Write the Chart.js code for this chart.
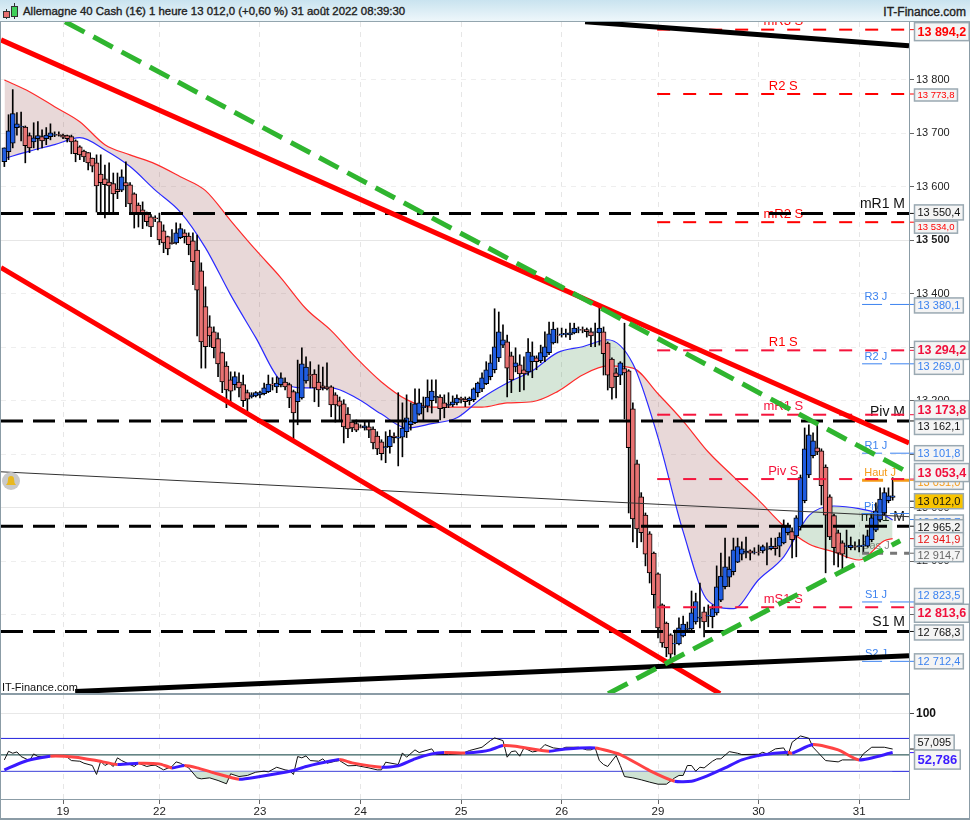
<!DOCTYPE html>
<html lang="fr">
<head>
<meta charset="utf-8">
<title>Allemagne 40 Cash</title>
<script src="https://cdn.jsdelivr.net/npm/chart.js@4/dist/chart.umd.min.js"></script>
<style>
    html, body { margin: 0; padding: 0; background: #fff; }
    body { width: 970px; height: 820px; position: relative; overflow: hidden; font-family: "Liberation Sans", Arial, sans-serif; }
    #titlebar { position: absolute; left: 0; top: 0; width: 970px; height: 22px; background: linear-gradient(#c9e3ef, #eef7fb); border-bottom: 1px solid #93a5ae; box-sizing: border-box; z-index: 5; }
    #titlebar span { position: absolute; top: 5px; font-size: 12px; color: #222; white-space: nowrap; -webkit-text-stroke: 0.35px #222; }
    #titlebar #ttl { left: 23px; font-size: 11.4px; }
    #site { right: 4px; }
    .ic { position: absolute; box-sizing: border-box; border: 1px solid #333; }
    canvas { position: absolute; left: 0; }
    #mainChart { top: 22px; }
    #rsiChart { top: 694px; }
    .line { position: absolute; background: #8b9ca6; z-index: 4; }
</style>
</head>
<body>
<div id="titlebar">
    <div class="ic" style="left:6px;top:9px;width:1px;height:10px;border-width:0 0 0 1px"></div>
    <div class="ic" style="left:14px;top:3px;width:1px;height:16px;border-width:0 0 0 1px"></div>
    <div class="ic" style="left:3px;top:11px;width:7px;height:7px;background:#e87070"></div>
    <div class="ic" style="left:11px;top:6px;width:7px;height:11px;background:#3fd05a"></div>
    <span id="ttl">Allemagne 40 Cash (1€) 1 heure 13 012,0 (+0,60 %) 31 août 2022 08:39:30</span>
    <span id="site">IT-Finance.com</span>
</div>
<canvas id="mainChart" width="970" height="672"></canvas>
<canvas id="rsiChart" width="970" height="126"></canvas>
<div class="line" style="left:0;top:22px;width:1px;height:798px"></div>
<div class="line" style="left:969px;top:0;width:1px;height:820px"></div>
<div class="line" style="left:0;top:693px;width:909px;height:2px"></div>
<div class="line" style="left:0;top:799px;width:909px;height:1px"></div>
<div class="line" style="left:0;top:818px;width:970px;height:2px"></div>
<div class="line" style="left:909px;top:22px;width:1px;height:778px"></div>
<script>
// Bougies 1 heure
const opens = [
    13647,13666,13682,13711,13712,13712,13696,13684,13690,13694,
    13690,13694,13697,13698,13697,13696,13694,13686,13675,13667,
    13664,13654,13645,13624,13615,13609,13606,13596,13594,13608,
    13604,13587,13566,13557,13551,13544,13542,13535,13518,13507,
    13496,13495,13505,13514,13508,13499,13482,13443,13376,13338,
    13329,13316,13290,13265,13239,13230,13235,13230,13215,13207,
    13209,13211,13213,13217,13231,13226,13230,13235,13230,13217,
    13198,13205,13237,13249,13250,13235,13228,13226,13226,13211,
    13200,13194,13175,13160,13157,13151,13149,13151,13147,13134,
    13123,13112,13114,13134,13130,13132,13142,13155,13159,13175,
    13187,13190,13200,13206,13207,13196,13191,13192,13196,13205,
    13203,13200,13202,13215,13222,13232,13245,13258,13280,13304,
    13310,13284,13263,13267,13258,13254,13273,13280,13275,13282,
    13290,13308,13323,13323,13324,13323,13327,13332,13333,13333,
    13329,13328,13327,13329,13308,13278,13252,13248,13260,13256,
    13185,13082,13020,12986,12951,12915,12876,12818,12784,12762,
    12745,12745,12760,12772,12773,12786,12793,12805,12797,12796,
    12803,12827,12852,12870,12880,12898,12913,12916,12919,12916,
    12917,12919,12922,12923,12927,12928,12934,12953,12955,12947,
    12964,13013,13061,13097,13112,13106,13076,13020,12985,12953,
    12934,12927,12925,12927,12927,12928,12928,12940,12958,12977,
    12990,13013,13019];
const highs = [
    13673,13735,13782,13739,13740,13714,13701,13720,13722,13707,
    13711,13718,13703,13703,13699,13697,13697,13688,13677,13669,
    13664,13654,13660,13660,13641,13645,13626,13626,13632,13647,
    13608,13589,13570,13572,13553,13548,13546,13551,13529,13508,
    13520,13533,13531,13520,13514,13514,13510,13458,13413,13359,
    13338,13327,13291,13273,13254,13254,13252,13248,13220,13215,
    13217,13218,13233,13248,13243,13245,13252,13243,13233,13220,
    13276,13299,13282,13273,13258,13267,13263,13271,13228,13215,
    13207,13202,13187,13164,13164,13155,13162,13160,13151,13142,
    13127,13142,13145,13140,13215,13196,13211,13196,13222,13222,
    13207,13239,13239,13239,13211,13211,13215,13209,13211,13207,
    13207,13207,13224,13235,13252,13273,13286,13372,13366,13342,
    13323,13291,13299,13286,13282,13316,13310,13284,13304,13329,
    13347,13347,13336,13336,13334,13345,13345,13338,13338,13336,
    13336,13345,13376,13338,13310,13280,13261,13273,13345,13258,
    13196,13089,13028,12990,12955,12917,12878,12820,12786,12764,
    12771,12794,12797,12786,12844,12840,12859,12814,12818,12818,
    12891,12915,12943,12908,12943,12943,12936,12945,12921,12925,
    12930,12930,12934,12943,12943,12953,12977,12971,12962,12985,
    13061,13149,13155,13140,13159,13110,13080,13024,12988,12958,
    12938,12958,12945,12936,12940,12949,12958,12990,13009,13037,
    13037,13037,13056];
const lows = [
    13638,13651,13673,13697,13686,13645,13664,13673,13669,13673,
    13679,13688,13694,13695,13690,13684,13662,13647,13651,13647,
    13632,13628,13553,13551,13542,13553,13551,13578,13591,13563,
    13551,13523,13525,13522,13527,13507,13535,13492,13477,13473,
    13493,13493,13503,13495,13473,13417,13321,13261,13261,13301,
    13280,13245,13215,13187,13198,13220,13207,13189,13179,13205,
    13207,13205,13211,13215,13220,13215,13226,13220,13187,13129,
    13155,13203,13233,13224,13198,13189,13220,13220,13170,13160,
    13164,13121,13131,13142,13142,13149,13145,13131,13110,13099,
    13089,13084,13102,13121,13078,13095,13131,13145,13157,13173,
    13164,13179,13177,13196,13164,13168,13187,13189,13192,13196,
    13189,13192,13198,13207,13217,13230,13239,13252,13273,13299,
    13207,13215,13254,13217,13220,13248,13243,13258,13271,13273,
    13286,13306,13308,13319,13319,13314,13325,13327,13327,13319,
    13301,13301,13304,13248,13220,13203,13205,13230,13166,12990,
    12936,12925,12936,12891,12859,12812,12756,12739,12721,12715,
    12724,12743,12758,12766,12768,12782,12775,12758,12777,12775,
    12799,12824,12848,12852,12874,12897,12902,12906,12902,12913,
    12911,12915,12893,12921,12911,12908,12932,12949,12906,12908,
    12958,13009,13056,13093,13099,13005,12878,12940,12893,12889,
    12883,12906,12921,12921,12917,12915,12926,12936,12955,12973,
    12986,13009,13014];
const closes = [
    13673,13705,13737,13718,13714,13677,13673,13692,13696,13686,
    13697,13701,13698,13697,13693,13690,13684,13662,13660,13656,
    13645,13639,13602,13608,13604,13602,13587,13591,13619,13602,
    13568,13551,13550,13548,13535,13525,13540,13501,13495,13484,
    13494,13514,13522,13507,13492,13460,13407,13310,13301,13321,
    13299,13269,13235,13220,13218,13245,13224,13200,13203,13211,
    13215,13215,13224,13231,13229,13233,13243,13226,13205,13177,
    13215,13269,13263,13247,13224,13220,13224,13222,13192,13192,
    13190,13151,13147,13149,13145,13150,13153,13145,13121,13110,
    13101,13114,13134,13131,13132,13149,13168,13162,13194,13196,
    13190,13207,13218,13208,13185,13187,13193,13198,13205,13202,
    13198,13205,13222,13233,13243,13258,13271,13301,13329,13314,
    13261,13239,13271,13250,13250,13291,13284,13273,13290,13301,
    13325,13334,13322,13325,13326,13327,13336,13333,13332,13329,
    13321,13329,13336,13288,13248,13224,13245,13271,13252,13112,
    12979,12960,12953,12913,12878,12837,12775,12747,12738,12726,
    12746,12775,12782,12774,12803,12824,12795,12786,12799,12811,
    12852,12872,12889,12885,12921,12927,12923,12918,12915,12917,
    12916,12927,12923,12928,12923,12945,12964,12966,12940,12981,
    13056,13110,13136,13125,13104,13041,12986,12945,12925,12915,
    12913,12929,12930,12926,12929,12930,12947,12981,12994,13016,
    13028,13022,13022];

// Moyennes mobiles, relevees toutes les 6 bougies
const maIdx = [0,6,12,18,24,30,36,42,48,54,60,66,72,78,84,90,96,102,108,114,120,126,132,138,144,150,156,162,168,174,180,186,192,198,204,210,212];
const maSlow = [13800,13778,13750,13722,13679,13660,13643,13619,13593,13537,13482,13430,13372,13331,13280,13235,13202,13188,13188,13188,13196,13198,13217,13248,13265,13261,13213,13162,13104,13058,13014,12966,12932,12917,12902,12938,12942];
const maFast = [13653,13667,13679,13692,13669,13638,13594,13553,13486,13398,13318,13237,13224,13224,13205,13175,13149,13157,13168,13205,13233,13256,13290,13301,13314,13269,13131,12955,12825,12811,12865,12908,12985,13003,12998,12986,12977];

// Niveaux horizontaux
const levelsM = [13550.4, 13162.1, 12965.2, 12768.3];
const levelsMNames = ['mR1 M', 'Piv M', 'mS1 M', 'S1 M'];
const levelsS = [13894.2, 13773.8, 13534.0, 13294.2, 13173.8, 13053.4, 12813.6];
const levelsSNames = ['mR3 S', 'R2 S', 'mR2 S', 'R1 S', 'mR1 S', 'Piv S', 'mS1 S'];
const levelsJ = [13380.1, 13269.0, 13101.8, 12989.0, 12823.5, 12712.4];
const levelsJNames = ['R3 J', 'R2 J', 'R1 J', 'Piv J', 'S1 J', 'S2 J'];
const hautJ = 13051.0;
const basJ = 12914.7;

// Droites de tendance : [indice, prix] aux extremites
const trendRedA = [[-0.8, 13875], [215.9, 13121]];
const trendRedB = [[-0.8, 13449], [170.8, 12652]];
const trendGreenA = [[14.5, 13909], [215.9, 13065]];
const trendGreenB = [[144.1, 12652], [213.8, 12938]];
const trendBlackA = [[138.6, 13909], [215.9, 13864]];
const trendBlackB = [[16.9, 12656], [215.9, 12723]];
const trendThin = [[-0.8, 13067], [215.9, 12983]];

// Axe du temps
const dayTicks = [14, 37, 61, 85, 109, 133, 156, 180, 204];
const dayLabels = ['19', '22', '23', '24', '25', '26', '29', '30', '31'];

// Etiquettes de prix a droite
const tagValues = [13894.2, 13773.8, 13534.0, 13550.4, 13380.1, 13269.0, 13294.2, 13162.1, 13173.8, 13101.8, 13051.0, 13053.4, 12977.7, 13012.0, 12965.2, 12941.9, 12914.7, 12823.5, 12813.6, 12768.3, 12712.4];
const tagStyles = [
    ['boldRed', 2], ['smallRed', 1], ['smallRed', 5], ['black', -1], ['blue', 1], ['blue', 3], ['boldPink', 0], ['black', 6], ['boldPink', -5], ['blue', 0],
    ['orange', 2], ['boldPink', -6.5], ['blue', 3], ['gold', 0], ['black', 1], ['red', 1], ['gray', 2], ['blue', -6], ['boldPink', 6], ['black', 1], ['blue', 0]
];

// RSI
const rsiIdx = [0,1,2,3,4,6,7,8,9,11,14,15,16,18,19,21,22,23,24,25,26,27,28,30,31,32,34,35,36,38,40,41,42,44,46,47,49,51,53,54,56,58,60,62,63,65,67,68,69,70,71,72,73,75,76,77,79,80,82,84,87,89,90,91,94,95,96,98,99,102,103,106,109,111,114,116,117,119,120,121,122,123,124,126,127,128,129,131,133,134,137,139,140,141,142,143,144,146,147,148,150,152,154,156,158,160,161,162,163,164,165,166,167,169,170,171,173,175,176,180,181,182,184,186,187,188,190,192,193,196,199,200,203,204,205,207,210,212];
const rsiLine = [43.9,54.4,52,53.6,48,43.1,51.2,48,48,48.4,49.2,47.2,43.1,42.3,39.9,37.1,26.2,42.3,37.1,39.9,35.9,46.4,43.1,38.3,35.9,39.9,35.9,37.1,37.5,31.8,35.9,41.5,39.9,34.2,22.1,20.9,22.1,18.9,14.9,27,23.7,25,29,30.2,29.4,35,31.8,31,26.2,48,46.4,48.8,43.1,42.3,45.2,39.9,42.3,43.1,36.7,37.1,34.2,31.8,31.8,41.1,38.3,52.4,47.2,56.1,52.8,57.3,50.4,50.4,51.2,55.3,59.3,67.4,70.6,67.4,47.2,54,54.8,48.4,58.5,53.6,54.4,57.3,62.5,58.5,57.3,59.3,59.3,56.1,56.1,58.5,43.1,38.3,35.9,49.2,37.1,23.7,22.1,19.7,16.9,14.4,14.4,22.1,25,25,37.1,37.1,30.2,35,34.2,42.3,45.2,45.2,54,52,50.4,50.8,53.2,51.2,57.3,58.5,49.2,65.4,73,70.2,59.3,43.1,41.5,43.9,43.9,43.9,51.2,59.3,59.3,57.1];
const sigIdx = [0,5,11,17,22,27,32,37,40,43,46,50,56,60,69,72,80,83,90,94,98,102,105,110,114,116,119,122,130,134,141,147,154,160,164,167,172,176,181,187,188,193,199,204,212];
const sigLine = [31.8,42.3,48.4,47.2,43.1,38.3,39.9,39.1,34.2,37.1,34.2,28.2,20.5,22.9,31,35.9,44.3,40.3,35,36.7,45.2,51.2,52.8,52.4,54,56.1,61.3,60.5,54.4,57.3,58.5,50.4,31,18,18,22.9,34.2,43.9,50,53.2,52,62.5,56.1,43.9,52.8];
const rsiLevels = [70, 50, 30];
const rsiTags = [57.095, 52.786];

const xMin = -0.8;
const xMax = 215.9;
const uiFont = '"Liberation Sans", Arial, sans-serif';

// 13012.0 -> "13 012,0"
function fmtPrice(v, dec) {
    const s = v.toFixed(dec).replace('.', ',');
    const p = s.split(',');
    const head = p[0].length > 3 ? p[0].slice(0, -3) + ' ' + p[0].slice(-3) : p[0];
    return p.length > 1 ? head + ',' + p[1] : head;
}

function toPoints(pairs) {
    return pairs.map(p => ({ x: p[0], y: p[1] }));
}

function trendDataset(pairs, color, width, dash, order) {
    return { type: 'line', data: toPoints(pairs), borderColor: color, borderWidth: width, borderDash: dash || [], pointRadius: 0, tension: 0, order: order, fill: false };
}

function levelDataset(value, start, color, width, dash, order) {
    return { type: 'line', data: [{ x: start, y: value }, { x: xMax, y: value }], borderColor: color, borderWidth: width, borderDash: dash, pointRadius: 0, tension: 0, order: order, fill: false };
}

function dayGrid() {
    return {
        drawTicks: false,
        color: '#e6e6e6',
        lineWidth: 1,
        offset: false
    };
}

const candleIdx = opens.map((_, i) => i);
const mainDatasets = [
    // 0 : moyenne lente, remplie jusqu'a la rapide
    { type: 'line', data: maIdx.map((x, i) => ({ x: x, y: maSlow[i] })), borderColor: '#ff2a2a', borderWidth: 1.2, pointRadius: 0, cubicInterpolationMode: 'monotone', order: 20,
      fill: { target: 1, above: 'rgba(140,60,60,0.2)', below: 'rgba(50,130,60,0.2)' } },
    // 1 : moyenne rapide
    { type: 'line', data: maIdx.map((x, i) => ({ x: x, y: maFast[i] })), borderColor: '#2a2aff', borderWidth: 1.2, pointRadius: 0, cubicInterpolationMode: 'monotone', order: 19, fill: false },
    // meches puis corps
    { type: 'bar', data: candleIdx.map(i => ({ x: i, y: [lows[i], highs[i]] })), backgroundColor: '#000', barThickness: 1, grouped: false, order: 15 },
    { type: 'bar', data: candleIdx.map(i => ({ x: i, y: [opens[i], closes[i]] })),
      backgroundColor: candleIdx.map(i => closes[i] >= opens[i] ? '#1f5ce0' : '#e87272'),
      borderColor: '#000', borderWidth: 1, borderSkipped: false, barThickness: 5, grouped: false, order: 14 },
    trendDataset(trendThin, '#333', 1, [], 12),
];

levelsJ.forEach(v => mainDatasets.push(levelDataset(v, 204.7, '#3b82f0', 1, [20, 8, 100, 0], 11)));
mainDatasets.push(levelDataset(hautJ, 204.7, '#f59a16', 3, [21, 10, 100, 0], 11));
mainDatasets.push(levelDataset(basJ, 204.7, '#777', 3, [7, 7], 11));
levelsS.forEach((v, i) => mainDatasets.push(levelDataset(v, 155.8, i >= 3 ? '#f5143c' : '#f00', 2, [13, 13], 10)));
levelsM.forEach(v => mainDatasets.push(levelDataset(v, xMin, '#000', 3, [22, 10], 9)));
mainDatasets.push(trendDataset(trendRedA, '#f00', 5, [], 5));
mainDatasets.push(trendDataset(trendRedB, '#f00', 5, [], 5));
mainDatasets.push(trendDataset(trendBlackA, '#000', 5, [], 4));
mainDatasets.push(trendDataset(trendBlackB, '#000', 5, [], 4));
mainDatasets.push(trendDataset(trendGreenA, '#2fb52f', 5, [22, 10], 3));
mainDatasets.push(trendDataset(trendGreenB, '#2fb52f', 5, [22, 10], 3));

const tagLook = {
    boldRed: { font: 'bold 12.5px ' + uiFont, color: '#f00', h: 18 },
    boldPink: { font: 'bold 12.5px ' + uiFont, color: '#f0103c', h: 18 },
    black: { font: '11px ' + uiFont, color: '#111', h: 15 },
    red: { font: '11px ' + uiFont, color: '#e81010', h: 14 },
    smallRed: { font: '9.5px ' + uiFont, color: '#f00', h: 12 },
    blue: { font: '11px ' + uiFont, color: '#3b82f0', h: 15 },
    orange: { font: '11px ' + uiFont, color: '#f59a16', h: 14 },
    gray: { font: '11px ' + uiFont, color: '#666', h: 13 },
    gold: { font: '11px ' + uiFont, color: '#111', h: 15, fill: '#f8c400' }
};

function drawTag(ctx, text, look, yLine, yBox) {
    ctx.strokeStyle = look.color;
    ctx.lineWidth = 1;
    ctx.beginPath();
    ctx.moveTo(910, yLine);
    ctx.lineTo(915, yLine);
    ctx.stroke();
    ctx.font = look.font;
    const w = ctx.measureText(text).width + 6;
    ctx.fillStyle = look.fill || '#f4f4f4';
    ctx.fillRect(914.5, yBox - look.h / 2, w, look.h);
    ctx.strokeStyle = '#9aa9b2';
    ctx.lineWidth = 1.5;
    ctx.strokeRect(914.5, yBox - look.h / 2, w, look.h);
    ctx.fillStyle = look.color;
    ctx.textAlign = 'left';
    ctx.textBaseline = 'middle';
    ctx.fillText(text, 917.5, yBox + 0.5);
}

function drawBell(ctx, x, y) {
    ctx.fillStyle = '#c9c9c9';
    ctx.beginPath();
    ctx.arc(x, y, 9, 0, Math.PI * 2);
    ctx.fill();
    ctx.fillStyle = '#e8b820';
    ctx.beginPath();
    ctx.moveTo(x - 5, y + 4);
    ctx.quadraticCurveTo(x - 3, y + 2, x - 3, y - 1);
    ctx.arc(x, y - 2, 3, Math.PI, 0);
    ctx.quadraticCurveTo(x + 3, y + 2, x + 5, y + 4);
    ctx.closePath();
    ctx.fill();
}

// Textes des niveaux, sous les droites
const levelLabels = {
    id: 'levelLabels',
    beforeDatasetsDraw(chart) {
        const ctx = chart.ctx;
        const xs = chart.scales.x;
        const ys = chart.scales.y;
        ctx.save();
        ctx.textBaseline = 'middle';
        ctx.textAlign = 'center';
        ctx.font = '13px ' + uiFont;
        levelsS.forEach((v, i) => {
            ctx.fillStyle = i >= 4 ? '#f5143c' : '#f00';
            ctx.fillText(levelsSNames[i], xs.getPixelForValue(185.9), ys.getPixelForValue(v) - 8);
        });
        ctx.textAlign = 'right';
        ctx.font = '14px ' + uiFont;
        ctx.fillStyle = '#111';
        levelsM.forEach((v, i) => ctx.fillText(levelsMNames[i], 905, ys.getPixelForValue(v) - 9));
        ctx.textAlign = 'center';
        ctx.font = '11px ' + uiFont;
        ctx.fillStyle = '#3b82f0';
        levelsJ.forEach((v, i) => ctx.fillText(levelsJNames[i], xs.getPixelForValue(208), ys.getPixelForValue(v) - 7));
        ctx.fillStyle = '#f59a16';
        ctx.fillText('Haut J', xs.getPixelForValue(209), ys.getPixelForValue(hautJ) - 7);
        ctx.fillStyle = '#888';
        ctx.fillText('Bas J', xs.getPixelForValue(208), ys.getPixelForValue(basJ) - 7);
        ctx.restore();
    },
    afterDraw(chart) {
        const ctx = chart.ctx;
        const ys = chart.scales.y;
        ctx.save();
        tagValues.forEach((v, i) => {
            const y = ys.getPixelForValue(v);
            drawTag(ctx, fmtPrice(v, 1), tagLook[tagStyles[i][0]], y, y + tagStyles[i][1]);
        });
        ctx.fillStyle = '#111';
        ctx.font = '11px ' + uiFont;
        ctx.textAlign = 'left';
        ctx.textBaseline = 'middle';
        ctx.fillText('IT-Finance.com', 2, 666);
        drawBell(ctx, 11, 459);
        ctx.restore();
    }
};

new Chart(document.getElementById('mainChart'), {
    type: 'bar',
    data: { datasets: mainDatasets },
    plugins: [levelLabels],
    options: {
        responsive: false,
        animation: false,
        devicePixelRatio: 1,
        layout: { padding: { left: 1, right: 0, top: 0, bottom: 0 } },
        plugins: { legend: { display: false }, tooltip: { enabled: false } },
        scales: {
            x: {
                type: 'linear',
                offset: false,
                min: xMin,
                max: xMax,
                afterBuildTicks: s => { s.ticks = dayTicks.map(v => ({ value: v })); },
                afterFit: s => { s.height = 0; s.paddingLeft = 0; s.paddingRight = 0; },
                ticks: { display: false },
                grid: dayGrid(),
                border: { display: false, dash: [5, 5] }
            },
            y: {
                position: 'right',
                min: 12651.3,
                max: 13908.5,
                afterFit: s => { s.width = 61; s.paddingTop = 0; s.paddingBottom = 0; },
                afterBuildTicks: s => {
                    const t = [];
                    for (let v = 12800; v <= 13800; v += 100) t.push({ value: v });
                    s.ticks = t;
                },
                ticks: {
                    autoSkip: false,
                    padding: 2,
                    color: '#222',
                    font: c => ({ family: uiFont, size: 11, weight: c.tick && c.tick.value === 13500 ? 'bold' : 'normal' }),
                    callback: v => fmtPrice(v, 0)
                },
                grid: {
                    tickLength: 5,
                    tickColor: '#666',
                    color: c => c.tick && (c.tick.value === 13500 || c.tick.value === 13000) ? '#e6e6e6' : '#eeeeee'
                },
                border: { display: false, dash: c => c.tick && (c.tick.value === 13500 || c.tick.value === 13000) ? [] : [5, 5] }
            }
        }
    }
});

// --- Panneau RSI ---
const rsiDatasets = [
    { type: 'line', data: rsiIdx.map((x, i) => ({ x: x, y: rsiLine[i] })), borderColor: '#111', borderWidth: 1, pointRadius: 0, tension: 0, order: 5,
      fill: { target: { value: 30 }, below: '#cfe3d3', above: 'rgba(0,0,0,0)' } },
    { type: 'line', data: sigIdx.map((x, i) => ({ x: x, y: sigLine[i] })), borderColor: '#3a1aff', borderWidth: 3, pointRadius: 0, tension: 0.2, order: 2, fill: false,
      segment: { borderColor: c => c.p1.parsed.y >= c.p0.parsed.y ? '#3a1aff' : '#ff4444' } }
];
rsiLevels.forEach(v => rsiDatasets.push({ type: 'line', data: [{ x: xMin, y: v }, { x: xMax, y: v }], borderColor: v === 50 ? '#063a3a' : '#2222dd', borderWidth: 1, pointRadius: 0, order: 8, fill: false }));

const rsiLabels = {
    id: 'rsiLabels',
    afterDraw(chart) {
        const ctx = chart.ctx;
        const ys = chart.scales.y;
        ctx.save();
        drawTag(ctx, '57,095', { font: '11px ' + uiFont, color: '#111', h: 15 }, ys.getPixelForValue(rsiTags[0]), ys.getPixelForValue(rsiTags[0]) - 6.5);
        drawTag(ctx, '52,786', { font: 'bold 13px ' + uiFont, color: '#3a1aff', h: 19 }, ys.getPixelForValue(rsiTags[1]), ys.getPixelForValue(rsiTags[1]) + 7);
        ctx.restore();
    }
};

new Chart(document.getElementById('rsiChart'), {
    type: 'line',
    data: { datasets: rsiDatasets },
    plugins: [rsiLabels],
    options: {
        responsive: false,
        animation: false,
        devicePixelRatio: 1,
        layout: { padding: { left: 1, right: 0, top: 0, bottom: 0 } },
        plugins: { legend: { display: false }, tooltip: { enabled: false } },
        scales: {
            x: {
                type: 'linear',
                offset: false,
                min: xMin,
                max: xMax,
                afterBuildTicks: s => { s.ticks = dayTicks.map(v => ({ value: v })); },
                afterFit: s => { s.height = 21; s.paddingLeft = 0; s.paddingRight = 0; },
                ticks: {
                    autoSkip: false,
                    maxRotation: 0,
                    padding: 1,
                    color: '#222',
                    font: { family: uiFont, size: 11.5 },
                    callback: v => dayLabels[dayTicks.indexOf(v)]
                },
                grid: { color: '#e6e6e6', tickColor: '#666', tickLength: 5, offset: false },
                border: { display: false, dash: [5, 5] }
            },
            y: {
                position: 'right',
                min: -3.6,
                max: 124,
                afterBuildTicks: s => { s.ticks = [{ value: 100 }]; },
                afterFit: s => { s.width = 61; s.paddingTop = 0; s.paddingBottom = 0; },
                ticks: { padding: 2, color: '#111', font: { family: uiFont, size: 12, weight: 'bold' } },
                grid: { color: '#e8e8e8', tickColor: '#444', tickLength: 5 },
                border: { display: false }
            }
        }
    }
});
</script>
</body>
</html>
